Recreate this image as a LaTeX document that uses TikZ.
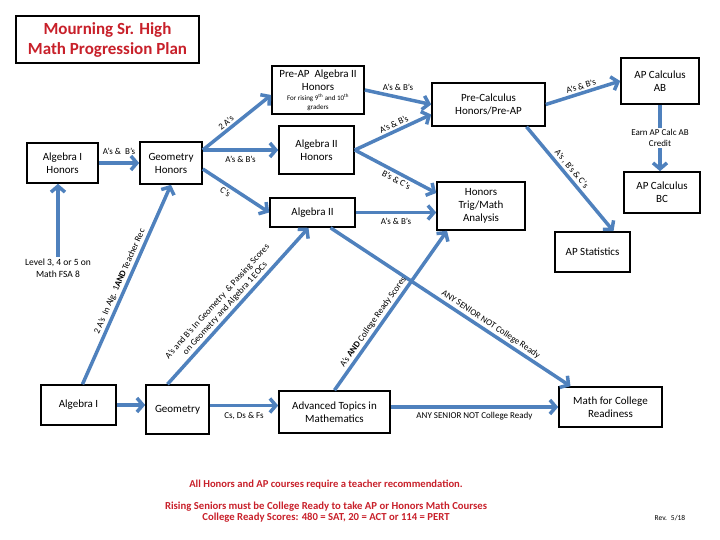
\documentclass[tikz,border=0pt]{standalone}
\usepackage{fontspec}
\setmainfont{Carlito}
\usetikzlibrary{arrows.meta}
\definecolor{planBlue}{HTML}{4F81BD}
\definecolor{planRed}{HTML}{C8202A}

\begin{document}
\begin{tikzpicture}[x=1pt, y=1pt,
    course/.style={rectangle, draw=black, line width=1.6pt, fill=white,
                 align=center, font=\fontsize{11}{13}\selectfont, inner sep=2pt},
    flow/.style={draw=planBlue, line width=3.5pt,
                 -{Straight Barb[length=6pt,width=14pt]}},
    lab/.style={font=\fontsize{9}{10.5}\selectfont, inner sep=2pt},
    note/.style={font=\fontsize{10.7}{14}\selectfont\bfseries, text=planRed, align=center},
  ]
    \useasboundingbox (0,0) rectangle (720,540);

    % title
    \node[course, minimum width=183pt, minimum height=47pt,
          font=\fontsize{17}{20}\selectfont\bfseries, text=planRed] (title) at (107.5,500.5)
          {Mourning Sr. High\\Math Progression Plan};

    % courses
    \node[course, minimum width=71pt, minimum height=40pt] (alg1h) at (62.5,377) {Algebra I\\Honors};
    \node[course, minimum width=62pt, minimum height=42pt] (geoh) at (171,377) {Geometry\\Honors};
    \node[course, minimum width=92pt, minimum height=48pt] (prealg2h) at (318,450)
          {Pre-AP~ Algebra II\\Honors\\[-3pt]{\fontsize{7}{8}\selectfont For rising 9\textsuperscript{th} and 10\textsuperscript{th}}\\[-4pt]{\fontsize{7}{8}\selectfont graders}};
    \node[course, minimum width=75pt, minimum height=48pt] (alg2h) at (316.5,390) {Algebra II\\Honors};
    \node[course, minimum width=85pt, minimum height=29pt] (alg2) at (312.5,327.5) {Algebra II};
    \node[course, minimum width=113pt, minimum height=43pt] (precalc) at (488.5,435.5) {Pre-Calculus\\Honors/Pre-AP};
    \node[course, minimum width=78pt, minimum height=46pt] (calcab) at (660,459) {AP Calculus\\AB};
    \node[course, minimum width=76pt, minimum height=41pt] (calcbc) at (662,347.5) {AP Calculus\\BC};
    \node[course, minimum width=88pt, minimum height=48pt] (trig) at (481,334) {Honors\\Trig/Math\\Analysis};
    \node[course, minimum width=75pt, minimum height=40pt] (apstat) at (592.5,288) {AP Statistics};
    \node[course, minimum width=75pt, minimum height=40pt] (alg1) at (78.5,135) {Algebra I};
    \node[course, minimum width=63pt, minimum height=49pt] (geo) at (177.5,130.5) {Geometry};
    \node[course, minimum width=111pt, minimum height=42pt] (advtop) at (334.5,128) {Advanced Topics in\\Mathematics};
    \node[course, minimum width=103pt, minimum height=40pt] (mcr) at (610.5,133) {Math for College\\Readiness};

    \node[lab, font=\fontsize{9.5}{11.5}\selectfont, align=center] (fsa) at (58,272) {Level 3, 4 or 5 on\\Math FSA 8};

    % honors track
    \draw[flow] (alg1h.east) -- node[lab, above=5pt] {A's \&~ B's} (geoh.west);
    \draw[flow] (fsa.north) -- (fsa.north |- alg1h.south);
    \draw[flow] ([yshift=13pt]geoh.east) -- node[lab, sloped, above, pos=0.4] {2 A's} ([yshift=-5pt]prealg2h.west);
    \draw[flow] ([yshift=13pt]geoh.east) -- node[lab, below=2pt] {A's \& B's} (alg2h.west);
    \draw[flow] ([yshift=-6pt]geoh.east) -- node[lab, sloped, below, pos=0.4] {C's} (alg2.west);
    \draw[flow] (prealg2h.east) -- node[lab, above=3pt] {A's \& B's} (precalc.west);
    \draw[flow] (alg2h.east) -- node[lab, sloped, above, pos=0.55] {A's \& B's} ([yshift=-10pt]precalc.west);
    \draw[flow] (alg2h.east) -- node[lab, sloped, below, pos=0.55] {B's \& C's} ([yshift=13pt]trig.west);
    \draw[flow] (alg2.east) -- node[lab, below=2pt] {A's \& B's} (alg2.east -| trig.west);
    \draw[flow] (precalc.east) -- node[lab, sloped, above] {A's \& B's} (calcab.west);
    \draw[flow] (calcab.south) -- node[lab, fill=white, align=center] {Earn AP Calc AB\\Credit} (calcab.south |- calcbc.north);
    \draw[flow] ([xshift=38pt]precalc.south) -- node[lab, sloped, above, pos=0.45] {A's , B's \& C's} ([xshift=21pt]apstat.north);
    \draw[flow] ([xshift=18pt]alg2.south) -- node[lab, sloped, above, pos=0.65] {ANY SENIOR NOT College Ready} ([xshift=-40pt]mcr.north);

    % regular track
    \draw[flow] ([xshift=4pt]alg1.north) -- node[lab, sloped, above] {2 A's~ In Alg. 1\textbf{AND} Teacher Rec} (geoh.south);
    \draw[flow] (alg1.east) -- (alg1.east -| geo.west);
    \draw[flow] ([xshift=-10pt]geo.north) -- node[lab, sloped, above, align=center, pos=0.45]
          {A's and B's In Geometry~ \& Passing Scores\\on Geometry and Algebra 1 EOCs} ([xshift=-4pt]alg2.south);
    \draw[flow] ([yshift=4pt]geo.east) -- node[lab, below=3pt] {Cs, Ds \& Fs} ([yshift=4pt]geo.east -| advtop.west);
    \draw[flow] (advtop.north) -- node[lab, sloped, above, pos=0.4] {A's \textbf{AND} College Ready Scores} ([xshift=-34pt]trig.south);
    \draw[flow] ([yshift=5pt]advtop.east) -- node[lab, below=2pt] {ANY SENIOR NOT College Ready} (mcr.west);

    % notes
    \node[note, font=\fontsize{10.6}{12}\selectfont\bfseries] (recnote) at (326,55)
          {All Honors and AP courses require a teacher recommendation.};
    \node[note] (readynote) at (326,28)
          {Rising Seniors must be College Ready to take AP or Honors Math Courses\\[-3pt]
           College Ready Scores: 480 = SAT, 20 = ACT or 114 = PERT};
    \node[lab, font=\fontsize{7.5}{8}\selectfont] (rev) at (670,22) {Rev.~ 5/18};
\end{tikzpicture}
\end{document}
